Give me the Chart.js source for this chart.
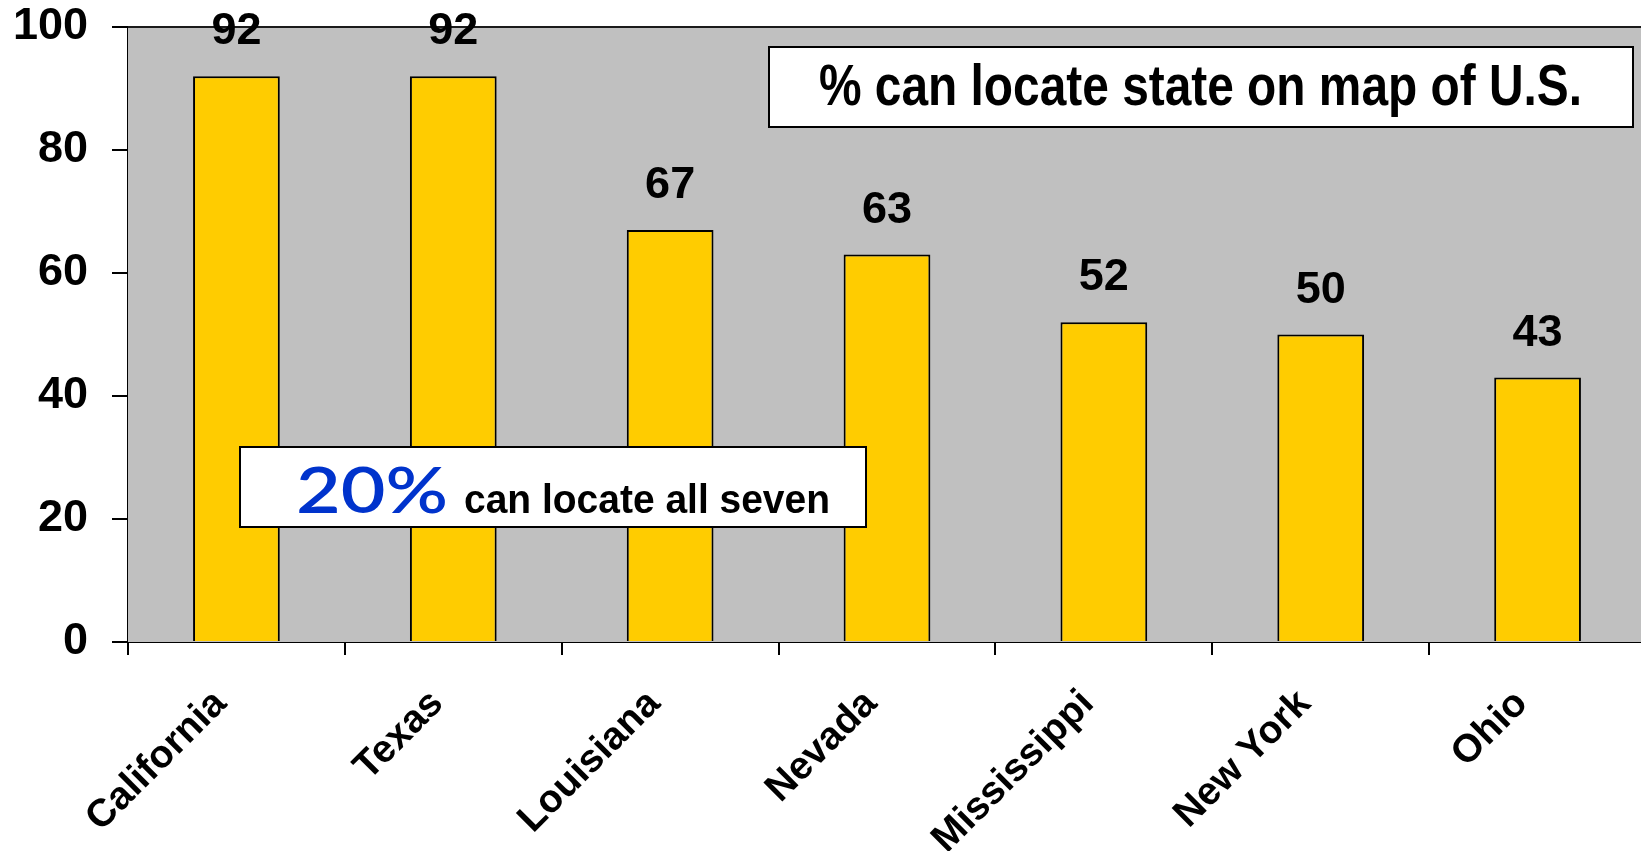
<!DOCTYPE html>
<html>
<head>
<meta charset="utf-8">
<title>% can locate state on map of U.S.</title>
<script src="https://cdn.jsdelivr.net/npm/chart.js@4.4.1/dist/chart.umd.min.js"></script>
<style>
    html, body { margin: 0; padding: 0; background: #ffffff; overflow: hidden; }
    #grafico { display: block; }
</style>
</head>
<body>
<!-- el área gris sigue unos píxeles más allá del borde derecho -->
<canvas id="grafico" width="1646" height="851"></canvas>
<script>
// datos del gráfico
const estados = ['California', 'Texas', 'Louisiana', 'Nevada', 'Mississippi', 'New York', 'Ohio'];
const porcentajes = [92, 92, 67, 63, 52, 50, 43];
const ticksY = [0, 20, 40, 60, 80, 100];
const tituloCaja = '% can locate state on map of U.S.';
const porcentajeTodos = '20%';
const textoTodos = 'can locate all seven';

const FUENTE = '"Liberation Sans", Arial, Helvetica, sans-serif';

// texto ajustado a un ancho fijo (la fuente original es más estrecha)
function textoAjustado(ctx, texto, x, y, ancho, font, color) {
    ctx.save();
    ctx.font = font;
    ctx.fillStyle = color;
    ctx.textAlign = 'left';
    ctx.textBaseline = 'alphabetic';
    const medido = ctx.measureText(texto).width;
    ctx.translate(x, y);
    ctx.scale(ancho / medido, 1);
    ctx.fillText(texto, 0, 0);
    ctx.restore();
}

function caja(ctx, x1, y1, x2, y2) {
    ctx.save();
    ctx.fillStyle = '#ffffff';
    ctx.fillRect(x1, y1, x2 - x1, y2 - y1);
    ctx.strokeStyle = '#000000';
    ctx.lineWidth = 2;
    ctx.strokeRect(x1, y1, x2 - x1, y2 - y1);
    ctx.restore();
}

const fondoPlugin = {
    id: 'fondoGris',
    beforeDatasetsDraw: function (chart) {
        const a = chart.chartArea;
        const ctx = chart.ctx;
        ctx.save();
        ctx.fillStyle = '#c0c0c0';
        ctx.fillRect(a.left, a.top, a.right - a.left, a.bottom - a.top);
        ctx.strokeStyle = '#1a1a1a';
        ctx.lineWidth = 2;
        ctx.beginPath();
        ctx.moveTo(a.left, a.top);
        ctx.lineTo(a.right, a.top);
        ctx.stroke();
        ctx.restore();
    }
};

const etiquetasPlugin = {
    id: 'etiquetas',
    afterDatasetsDraw: function (chart) {
        const ctx = chart.ctx;
        const meta = chart.getDatasetMeta(0);
        ctx.save();
        ctx.font = 'bold 45px ' + FUENTE;
        ctx.fillStyle = '#000000';
        ctx.textAlign = 'center';
        ctx.textBaseline = 'alphabetic';
        meta.data.forEach(function (bar, i) {
            ctx.fillText(String(porcentajes[i]), bar.x, bar.y - 32);
        });
        ctx.restore();

        // cajas de texto
        caja(ctx, 769, 47, 1633, 127);
        textoAjustado(ctx, tituloCaja, 819, 105, 763, 'bold 58px ' + FUENTE, '#000000');

        caja(ctx, 240, 447, 866, 527);
        textoAjustado(ctx, porcentajeTodos, 296, 513, 152, '600 64px Lato, "Open Sans", ' + FUENTE, '#0033cc');
        textoAjustado(ctx, textoTodos, 464, 513, 366, 'bold 41px ' + FUENTE, '#000000');
    }
};

new Chart(document.getElementById('grafico').getContext('2d'), {
    type: 'bar',
    data: {
        labels: estados,
        datasets: [{
            label: tituloCaja,
            data: porcentajes,
            backgroundColor: '#ffcc00',
            borderColor: '#000000',
            borderWidth: 2,
            barPercentage: 0.4,
            categoryPercentage: 1
        }]
    },
    plugins: [fondoPlugin, etiquetasPlugin],
    options: {
        responsive: false,
        animation: false,
        layout: {
            padding: { top: 27, right: 0, left: 0, bottom: 0 }
        },
        scales: {
            x: {
                grid: {
                    display: true,
                    drawOnChartArea: false,
                    drawTicks: true,
                    tickLength: 13,
                    color: '#000000',
                    lineWidth: 2
                },
                border: { display: true, color: '#000000', width: 2 },
                ticks: {
                    color: '#000000',
                    font: { family: FUENTE, size: 39, weight: 'bold' },
                    minRotation: 45,
                    maxRotation: 45,
                    padding: 26,
                    labelOffset: -16
                },
                afterFit: function (scale) {
                    scale.height = 209;
                    scale.paddingLeft = 0;
                    scale.paddingRight = 0;
                }
            },
            y: {
                min: 0,
                max: 100,
                afterBuildTicks: function (scale) {
                    scale.ticks = ticksY.map(function (v) { return { value: v }; });
                },
                grid: {
                    display: true,
                    drawOnChartArea: false,
                    drawTicks: true,
                    tickLength: 16,
                    color: '#000000',
                    lineWidth: 2
                },
                border: { display: true, color: '#000000', width: 2 },
                ticks: {
                    color: '#000000',
                    font: { family: FUENTE, size: 45, weight: 'bold' },
                    padding: 24
                },
                afterFit: function (scale) {
                    scale.width = 128;
                    scale.paddingTop = 0;
                    scale.paddingBottom = 0;
                }
            }
        },
        plugins: {
            legend: { display: false },
            tooltip: { enabled: false },
            title: { display: false }
        }
    }
});
</script>
</body>
</html>
